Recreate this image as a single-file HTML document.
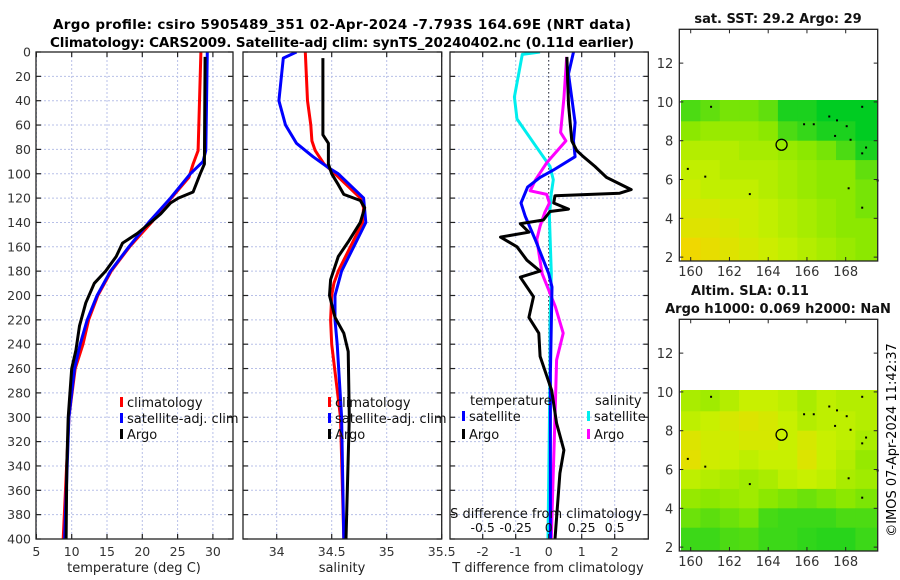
<!DOCTYPE html>
<html><head><meta charset="utf-8"><style>
html,body{margin:0;padding:0;background:#fff;}
svg{display:block;font-family:"DejaVu Sans","Liberation Sans",sans-serif;}
</style></head><body>
<svg id="fig" width="900" height="580" viewBox="0 0 900 580" xmlns="http://www.w3.org/2000/svg">
<text x="342" y="29" text-anchor="middle" font-size="13.5" font-weight="bold" textLength="578">Argo profile: csiro 5905489_351 02-Apr-2024 -7.793S 164.69E (NRT data)</text>
<text x="342" y="47" text-anchor="middle" font-size="13.5" font-weight="bold" textLength="584">Climatology: CARS2009. Satellite-adj clim: synTS_20240402.nc (0.11d earlier)</text>
<g id="layer"></g>
<text transform="translate(896,440) rotate(-90)" text-anchor="middle" font-size="13">©IMOS 07-Apr-2024 11:42:37</text>
</svg>
<script>
// ---- data ----
const depthTicks=[0,20,40,60,80,100,120,140,160,180,200,220,240,260,280,300,320,340,360,380,400];
const tTicks=[5,10,15,20,25,30];
const sTicks=[34,34.5,35,35.5];
const dTTicks=[-2,-1,0,1,2];
const dSTicks=[-0.5,-0.25,0,0.25,0.5];
const dSTickLabels=["-0.5","-0.25","0","0.25","0.5"];

const climTdep=[0,81,92,103,120,140,160,180,200,220,240,260,300,400];
const climT=[28.3,27.9,27.2,26.6,24.1,21.3,18.2,15.6,13.7,12.4,11.6,10.5,9.6,8.8];
const satTdep=[0,81,90,100,120,140,160,180,200,220,240,260,300,400];
const satT=[29.2,29.0,28.6,26.8,24.0,20.9,18.1,15.5,13.6,12.2,11.2,10.4,9.6,9.0];
const argoTdep=[4,92,100,115,120,124,133,140,149,157,168,180,190,206,225,245,260,300,340,400];
const argoT=[28.9,28.8,28.2,27.2,25.1,24.0,22.6,21.2,19.3,17.2,16.3,14.8,13.2,12.0,11.1,10.6,10.0,9.5,9.3,9.2];

const climSdep=[0,40,60,73,81,92,100,120,128,140,160,180,190,200,220,240,300,400];
const climS=[34.26,34.28,34.31,34.32,34.35,34.43,34.53,34.76,34.79,34.78,34.67,34.56,34.52,34.50,34.49,34.50,34.58,34.61];
const satSdep=[0,5,40,60,75,86,95,100,120,140,160,180,200,220,240,300,400];
const satS=[34.18,34.06,34.02,34.08,34.18,34.33,34.47,34.56,34.79,34.81,34.70,34.59,34.53,34.53,34.55,34.59,34.61];
const argoSdep=[5,68,75,92,100,109,117,122,128,140,156,168,187,200,218,231,246,300,400];
const argoS=[34.42,34.42,34.47,34.47,34.50,34.56,34.61,34.76,34.80,34.76,34.65,34.56,34.49,34.48,34.53,34.61,34.65,34.66,34.63];

const dTsatDep=[0,18,58,73,86,97,103,111,124,135,154,182,193,264,400];
const dTsat=[0.75,0.6,0.8,0.75,0.8,0.14,-0.26,-0.64,-0.84,-0.71,-0.41,0.0,0.1,0.05,0.05];
const dTargoDep=[4,43,73,81,86,94,103,113,116,118,124,129,131,138,141,148,152,160,171,180,185,201,218,231,250,278,305,327,346,400];
const dTargo=[0.55,0.6,0.7,0.85,1.05,1.4,1.75,2.5,2.15,0.19,0.15,0.6,0.04,-0.16,-0.86,-0.6,-1.46,-0.96,-0.66,-0.26,-0.86,-0.46,-0.6,-0.3,-0.26,0.09,0.24,0.46,0.34,0.19];
const dSsatDep=[0,2,37,55,77,94,105,116,135,182,223,264,400];
const dSsat=[-0.066,-0.2,-0.26,-0.24,-0.1,0.01,0.035,0.02,0.005,0.02,0.01,0.01,-0.005];
const dSargoDep=[4,38,66,73,91,105,114,117,124,132,143,154,182,209,231,253,291,345,400];
const dSargo=[0.136,0.115,0.09,0.13,-0.015,-0.1,-0.14,-0.015,0.005,-0.03,-0.065,-0.09,-0.05,0.05,0.11,0.06,0.05,0.035,0.02];

const mapLons=[159.5,160.5,161.5,162.5,163.5,164.5,165.5,166.5,167.5,168.5,169.6];
const mapLats=[10.1,9,8,7,6,5,4,3,1.8];
const sstGrid=[
[29.6,29.5,29.4,29.4,29.5,29.8,29.8,29.9,29.9,29.9],
[29.3,29.2,29.2,29.2,29.3,29.6,29.7,29.8,29.8,29.9],
[29.0,29.0,29.0,29.1,29.1,29.2,29.3,29.4,29.6,29.8],
[28.9,28.9,29.0,29.0,29.0,29.1,29.2,29.3,29.3,29.5],
[28.8,28.9,28.9,28.9,29.0,29.1,29.2,29.3,29.3,29.4],
[28.7,28.7,28.8,28.8,28.9,29.0,29.1,29.2,29.3,29.4],
[28.6,28.6,28.7,28.8,28.9,29.0,29.1,29.2,29.3,29.3],
[28.4,28.5,28.6,28.7,28.8,28.9,29.0,29.1,29.2,29.3]];
const slaGrid=[
[0.45,0.5,0.4,0.3,0.3,0.35,0.45,0.35,0.4,0.4],
[0.35,0.3,0.2,0.15,0.2,0.3,0.4,0.35,0.35,0.4],
[0.15,0.25,0.25,0.2,0.2,0.3,0.2,0.3,0.35,0.45],
[0.1,0.25,0.3,0.35,0.3,0.3,0.15,0.3,0.4,0.55],
[0.35,0.4,0.45,0.5,0.45,0.35,0.3,0.35,0.45,0.5],
[0.55,0.6,0.55,0.5,0.6,0.65,0.7,0.65,0.6,0.65],
[0.7,0.75,0.7,0.65,0.82,0.85,0.85,0.85,0.8,0.8],
[0.85,0.85,0.8,0.78,0.85,0.85,0.88,0.9,0.9,0.85]];
const argoLon=164.69, argoLat=7.793;
const coastPts=[[161,9.8],[165.8,8.9],[166.3,8.9],[167.1,9.3],[167.5,9.1],[168,8.8],[167.4,8.3],[168.2,8.1],[168.8,7.4],[169,7.7],[168.8,9.8],[159.8,6.6],[160.7,6.2],[163,5.3],[168.1,5.6],[168.8,4.6],[169.6,6]];

// ---- helpers ----
const NS='http://www.w3.org/2000/svg';
const L=document.getElementById('layer');
function mk(tag,at,parent){const e=document.createElementNS(NS,tag);for(const k in at)e.setAttribute(k,at[k]);(parent||L).appendChild(e);return e;}
const Y0=52,Y1=539;
const yD=d=>Y0+d*(Y1-Y0)/400;
function lin(d0,d1,r0,r1){return v=>r0+(v-d0)*(r1-r0)/(d1-d0);}
const xT=lin(5,30,36.4,212.9);
const xS=lin(34,35.5,276.7,441.7);
const xDT=lin(0,1,548.7,581.7);
const xDS=lin(0,0.25,548.7,581.7);
const panels=[{x0:36,x1:233},{x0:243,x1:441.7},{x0:450,x1:648.3}];

function panelFrame(p,xs,xticks,labels,idx){
  depthTicks.forEach(d=>{const l=mk('line',{x1:p.x0,x2:p.x1,y1:yD(d),y2:yD(d),stroke:'#b8c0e8','stroke-width':1,'stroke-dasharray':'2,2'});
    });
  xticks.forEach(v=>{const x=xs(v);const l=mk('line',{x1:x,x2:x,y1:Y0,y2:Y1,stroke:'#b8c0e8','stroke-width':1,'stroke-dasharray':'2,2'});
    });
}
function ticksFrame(p,xs,xticks,labels,idx){
  const r=mk('rect',{x:p.x0,y:Y0,width:p.x1-p.x0,height:Y1-Y0,fill:'none',stroke:'#222','stroke-width':1.3});
  
  depthTicks.forEach(d=>{
    mk('line',{x1:p.x0,x2:p.x0+5,y1:yD(d),y2:yD(d),stroke:'#222','stroke-width':1.2});
    mk('line',{x1:p.x1-5,x2:p.x1,y1:yD(d),y2:yD(d),stroke:'#222','stroke-width':1.2});
  });
  xticks.forEach((v,i)=>{const x=xs(v);
    mk('line',{x1:x,x2:x,y1:Y1-5,y2:Y1,stroke:'#222','stroke-width':1.2});
    mk('line',{x1:x,x2:x,y1:Y0,y2:Y0+5,stroke:'#222','stroke-width':1.2});
    const t=mk('text',{x:x,y:556,'text-anchor':'middle','font-size':12.5,fill:'#333'});t.textContent=labels[i];
    
  });
}
function legendItem(x,y,color,label,name){
  const g=mk('g',{});
  mk('rect',{x:x,y:y-10,width:3,height:10,fill:color},g);
  const t=mk('text',{x:x+7,y:y,'font-size':13,fill:'#111'},g);t.textContent=label;
}
function clip(id,p){const c=mk('clipPath',{id:id});mk('rect',{x:p.x0,y:Y0,width:p.x1-p.x0,height:Y1-Y0},c);}

// ---- panel 1 ----
panelFrame(panels[0],xT,tTicks,tTicks,0);
clip('c1',panels[0]);
const g1=mk('g',{'clip-path':'url(#c1)'});
[[climT,climTdep,'#ff0000','climatology-temperature-line'],[satT,satTdep,'#0000ff','satellite-temperature-line'],[argoT,argoTdep,'#000','argo-temperature-line']].forEach(a=>{
  const pts=a[0].map((v,i)=>xT(v).toFixed(1)+','+yD(a[1][i]).toFixed(1)).join(' ');
  const e=mk('polyline',{points:pts,fill:'none',stroke:a[2],'stroke-width':3,'stroke-linejoin':'round'},g1);
  });
ticksFrame(panels[0],xT,tTicks,tTicks.map(String),0);
depthTicks.forEach(d=>{const t=mk('text',{x:31,y:yD(d)+4.5,'text-anchor':'end','font-size':12.5,fill:'#333'});t.textContent=d;
  });
{const t=mk('text',{x:134,y:572,'text-anchor':'middle','font-size':13,fill:'#222'});t.textContent='temperature (deg C)';
}
legendItem(120,407,'#ff0000','climatology','legend-climatology');
legendItem(120,423,'#0000ff','satellite-adj. clim','legend-satellite-adj-clim');
legendItem(120,439,'#000','Argo','legend-argo');

// ---- panel 2 ----
panelFrame(panels[1],xS,sTicks,sTicks,1);
clip('c2',panels[1]);
const g2=mk('g',{'clip-path':'url(#c2)'});
[[climS,climSdep,'#ff0000','climatology-salinity-line'],[satS,satSdep,'#0000ff','satellite-salinity-line'],[argoS,argoSdep,'#000','argo-salinity-line']].forEach(a=>{
  const pts=a[0].map((v,i)=>xS(v).toFixed(1)+','+yD(a[1][i]).toFixed(1)).join(' ');
  const e=mk('polyline',{points:pts,fill:'none',stroke:a[2],'stroke-width':3,'stroke-linejoin':'round'},g2);
  });
ticksFrame(panels[1],xS,sTicks,["34","34.5","35","35.5"],1);
{const t=mk('text',{x:342,y:572,'text-anchor':'middle','font-size':13,fill:'#222'});t.textContent='salinity';
}
legendItem(328,407,'#ff0000','climatology','legend-climatology-2');
legendItem(328,423,'#0000ff','satellite-adj. clim','legend-satellite-adj-clim-2');
legendItem(328,439,'#000','Argo','legend-argo-2');

// ---- panel 3 ----
panelFrame(panels[2],xDT,dTTicks,dTTicks,2);
clip('c3',panels[2]);
const g3=mk('g',{'clip-path':'url(#c3)'});
{const z=mk('line',{x1:xDT(0),x2:xDT(0),y1:Y0,y2:Y1,stroke:'#333','stroke-width':1,'stroke-dasharray':'1.5,2.5'},g3);
}
[[dSsat,dSsatDep,'#00eeee','satellite-salinity-diff-line',xDS],[dSargo,dSargoDep,'#ff00ff','argo-salinity-diff-line',xDS],[dTsat,dTsatDep,'#0000ff','satellite-temperature-diff-line',xDT],[dTargo,dTargoDep,'#000','argo-temperature-diff-line',xDT]].forEach(a=>{
  const pts=a[0].map((v,i)=>a[4](v).toFixed(1)+','+yD(a[1][i]).toFixed(1)).join(' ');
  const e=mk('polyline',{points:pts,fill:'none',stroke:a[2],'stroke-width':3,'stroke-linejoin':'round'},g3);
  });
ticksFrame(panels[2],xDT,dTTicks,dTTicks.map(String),2);
dSTicks.forEach((v,i)=>{const t=mk('text',{x:xDS(v),y:532,'text-anchor':'middle','font-size':12.5,fill:'#111'});t.textContent=dSTickLabels[i];
  });
{const t=mk('text',{x:546,y:518,'text-anchor':'middle','font-size':13,fill:'#111'});t.textContent='S difference from climatology';
}
{const t=mk('text',{x:548,y:572,'text-anchor':'middle','font-size':13,fill:'#222'});t.textContent='T difference from climatology';
}
{const t=mk('text',{x:470,y:405,'font-size':13,fill:'#111'});t.textContent='temperature';}
{const t=mk('text',{x:595,y:405,'font-size':13,fill:'#111'});t.textContent='salinity';}
legendItem(462,421,'#0000ff','satellite','legend-temp-satellite');
legendItem(462,439,'#000','Argo','legend-temp-argo');
legendItem(587,421,'#00eeee','satellite','legend-sal-satellite');
legendItem(587,439,'#ff00ff','Argo','legend-sal-argo');

// ---- maps ----
const stops=[[0,[240,216,0]],[0.3,[200,240,0]],[0.6,[140,232,0]],[0.85,[60,216,24]],[1,[0,204,34]]];
function cmap(t){t=Math.max(0,Math.min(1,t));for(let i=1;i<stops.length;i++){if(t<=stops[i][0]){const a=stops[i-1],b=stops[i];const f=(t-a[0])/(b[0]-a[0]);
  return 'rgb('+a[1].map((c,j)=>Math.round(c+(b[1][j]-c)*f)).join(',')+')';}}return 'rgb(0,204,34)';}
function drawMap(top,bottom,grid,norm,name,titles){
  const bx0=679.3,bx1=877.7;
  const mx=lin(160,168,690.7,845.7);
  const pxPerDeg=19.4;
  const yLat=lat=>bottom-(lat-1.8)*pxPerDeg;
  const g=mk('g',{});
  grid.forEach((row,r)=>row.forEach((v,c)=>{
    const x0=mx(mapLons[c]),x1=mx(mapLons[c+1]),y0=yLat(mapLats[r]),y1=yLat(mapLats[r+1]);
    const e=mk('rect',{x:x0.toFixed(1),y:y0.toFixed(1),width:(x1-x0+0.5).toFixed(1),height:(y1-y0+0.5).toFixed(1),fill:cmap(norm(v))},g);
    
  }));
  coastPts.forEach(p=>{const e=mk('rect',{x:mx(p[0]),y:yLat(p[1]),width:2,height:2,fill:'#000'},g);
    });
  const c=mk('circle',{cx:mx(argoLon),cy:yLat(argoLat),r:5.5,fill:'none',stroke:'#000','stroke-width':1.3});
  
  const fr=mk('rect',{x:bx0,y:top,width:bx1-bx0,height:bottom-top,fill:'none',stroke:'#222','stroke-width':1.3});
  
  [2,4,6,8,10,12].forEach(lat=>{const y=yLat(lat);
    mk('line',{x1:bx0,x2:bx0+4,y1:y,y2:y,stroke:'#222'});mk('line',{x1:bx1-4,x2:bx1,y1:y,y2:y,stroke:'#222'});
    const t=mk('text',{x:bx0-6,y:y+5,'text-anchor':'end','font-size':13,fill:'#333'});t.textContent=lat;
    });
  [160,162,164,166,168].forEach(lon=>{const x=mx(lon);
    mk('line',{x1:x,x2:x,y1:bottom-4,y2:bottom,stroke:'#222'});mk('line',{x1:x,x2:x,y1:top,y2:top+4,stroke:'#222'});
    const t=mk('text',{x:x,y:bottom+15,'text-anchor':'middle','font-size':13,fill:'#333'});t.textContent=lon;
    });
  titles.forEach(tt=>{const t=mk('text',{x:tt[0],y:tt[1],'text-anchor':'middle','font-size':13,'font-weight':'bold',fill:'#111'});t.textContent=tt[2];
    });
}
drawMap(29.3,261,sstGrid,v=>(v-28.4)/1.5,'sst-map',[[778,23,'sat. SST: 29.2 Argo: 29']]);
drawMap(319.3,551,slaGrid,v=>v,'sla-map',[[750,295,'Altim. SLA: 0.11'],[778,313,'Argo h1000: 0.069 h2000: NaN']]);
</script>
</body></html>
